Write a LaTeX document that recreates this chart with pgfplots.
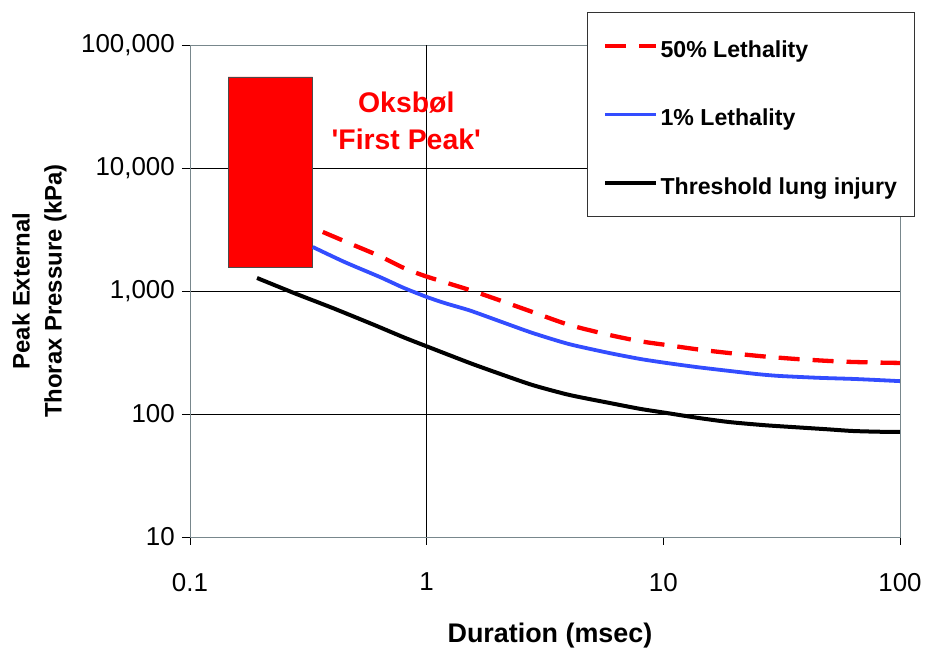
\documentclass[border=0pt]{standalone}
\usepackage{pgfplots}
\pgfplotsset{compat=1.18}
\usepackage{fontspec}
\setmainfont{Liberation Sans}
\definecolor{myblue}{RGB}{51,77,255}
\definecolor{framegray}{RGB}{120,135,140}
\begin{document}
\begin{tikzpicture}
\useasboundingbox (-190bp,-112bp) rectangle (738bp,537bp);
\begin{axis}[
  at={(0,0)}, anchor=south west,
  scale only axis, width=710bp, height=492bp,
  xmode=log, ymode=log,
  xmin=0.1, xmax=100, ymin=10, ymax=100000,
  xtick={0.1,1,10,100}, xticklabels={0.1,1,10,100},
  ytick={10,100,1000,10000,100000},
  yticklabels={10,100,{1,000},{10,000},{100,000}},
  xminorticks=false, yminorticks=false,
  tick align=outside, major tick length=8bp,
  xtick pos=left, ytick pos=left,
  tick style={black, line width=0.8bp},
  axis line style={framegray, line width=0.9bp},
  ymajorgrids, grid style={black, line width=0.8bp},
  extra x ticks={1},
  extra x tick style={xmajorgrids=true, major tick length=0pt, xticklabel={}},
  tick label style={font=\fontsize{26}{30}\selectfont},
  xticklabel style={anchor=north, inner sep=0pt, yshift=-28bp},
  yticklabel style={anchor=east, inner sep=0pt, xshift=-7bp},
  xlabel={Duration (msec)},
  xlabel style={at={(axis description cs:0.507,-0.2)}, anchor=center, font=\bfseries\fontsize{27}{32}\selectfont},
  ylabel={Peak External\\Thorax Pressure (kPa)},
  ylabel style={at={(axis description cs:-0.212,0.5)}, anchor=center, align=center, font=\bfseries\fontsize{24}{32}\selectfont},
  legend style={
    at={(rel axis cs:0.559,1.067)}, anchor=north west,
    draw=black!80, line width=0.8bp, fill=white,
    font=\bfseries\fontsize{23.2}{27}\selectfont,
    inner xsep=16bp, inner ysep=20bp,
    row sep=41.5bp,
    cells={anchor=west},
    nodes={inner sep=2bp, text height=23bp, text depth=0bp},
  },
  legend cell align=left,
  legend image code/.code={\draw[#1] (0bp,0bp) -- (51bp,0bp);},
]
\addplot[fill=red, draw=black!70, line width=0.8bp, forget plot]
  coordinates {(0.145,1567) (0.330,1567) (0.330,55000) (0.145,55000) (0.145,1567)};

\addplot[red, line width=4.3bp, dash pattern=on 21bp off 13bp, smooth, tension=0.4] coordinates {
 (0.364,3020) (0.50,2330) (0.634,1920) (0.80,1540) (1.0,1310) (1.52,1019) (2.0,850)
 (2.80,675) (4.0,530) (5.92,439) (8.0,390) (10.3,364) (14,335) (19.0,313) (27,293)
 (36.4,280) (50,270) (62.7,265) (80,262) (100,260)};
\addlegendentry{50\% Lethality}

\addplot[myblue, line width=3.8bp, smooth, tension=0.4] coordinates {
 (0.330,2280) (0.45,1720) (0.634,1300) (0.80,1060) (1.0,895) (1.2,795) (1.52,695) (2.0,575)
 (2.80,456) (4.0,370) (5.92,313) (8.0,280) (10.3,260) (14,240) (19.0,224) (25,211) (30.8,204)
 (45,197) (62.7,193) (80,189) (100,185)};
\addlegendentry{1\% Lethality}

\addplot[black, line width=4bp, smooth, tension=0.4] coordinates {
 (0.192,1276) (0.28,950) (0.401,727) (0.60,530) (0.80,420) (1.0,355) (1.52,260) (2.0,215)
 (2.80,172) (4.0,143) (5.92,123) (8.0,110) (10.3,102) (14,93) (19.0,86) (27,81)
 (36.4,78) (50,75) (62.7,72.8) (80,71.8) (100,71.4)};
\addlegendentry{Threshold lung injury}

\node[text=red, font=\bfseries\fontsize{28.5}{37}\selectfont, align=center]
  at (axis cs:0.82,24000) {Oksbøl\\\textquotesingle First Peak\textquotesingle};
\end{axis}
\end{tikzpicture}
\end{document}
